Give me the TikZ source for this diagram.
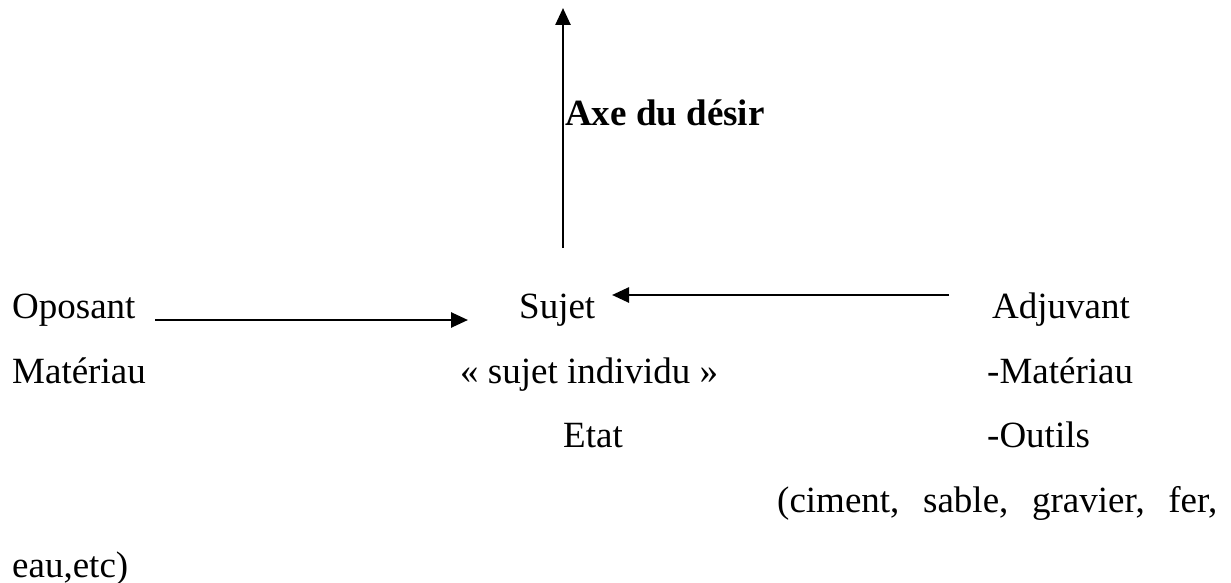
\documentclass[tikz,border=0pt]{standalone}
\usepackage{fontspec}
\setmainfont{Liberation Serif}
\usetikzlibrary{arrows.meta}
\begin{document}
\begin{tikzpicture}[x=1pt,y=-1pt,
  txt/.style={anchor=base west,inner sep=0pt,font=\fontsize{37}{44}\selectfont},
  btxt/.style={txt,font=\fontsize{37}{44}\selectfont\bfseries},
  arr/.style={line width=2.6pt,-{Triangle[length=17pt,width=15pt]}}]
\useasboundingbox (0,0) rectangle (1231,583);
% labels
\node[btxt] (axe) at (565,126) {Axe du désir};
\node[txt] (opo) at (12,318) {Oposant};
\node[txt] (suj) at (519,318) {Sujet};
\node[txt] (adj) at (992,318) {Adjuvant};
\node[txt] (mat) at (12,383) {Matériau};
\node[txt] (ind) at (460,383) {« sujet individu »};
\node[txt] (amat) at (987,383) {-Matériau};
\node[txt] (etat) at (563,447) {Etat};
\node[txt] (out) at (987,447) {-Outils};
\node[txt] (cim) at (777,512) {\makebox[440pt][s]{(ciment, sable, gravier, fer,}};
\node[txt] (eau) at (12,577) {eau,etc)};
% arrow ends
\coordinate (vs) at (563,248);
\coordinate (ve) at (563,8);
\coordinate (os) at (155,320);
\coordinate (oe) at (468,320);
\coordinate (as) at (949,295);
\coordinate (ae) at (612,295);
\draw[arr] (vs) -- (ve);
\draw[arr] (os) -- (oe);
\draw[arr] (as) -- (ae);
\end{tikzpicture}
\end{document}
